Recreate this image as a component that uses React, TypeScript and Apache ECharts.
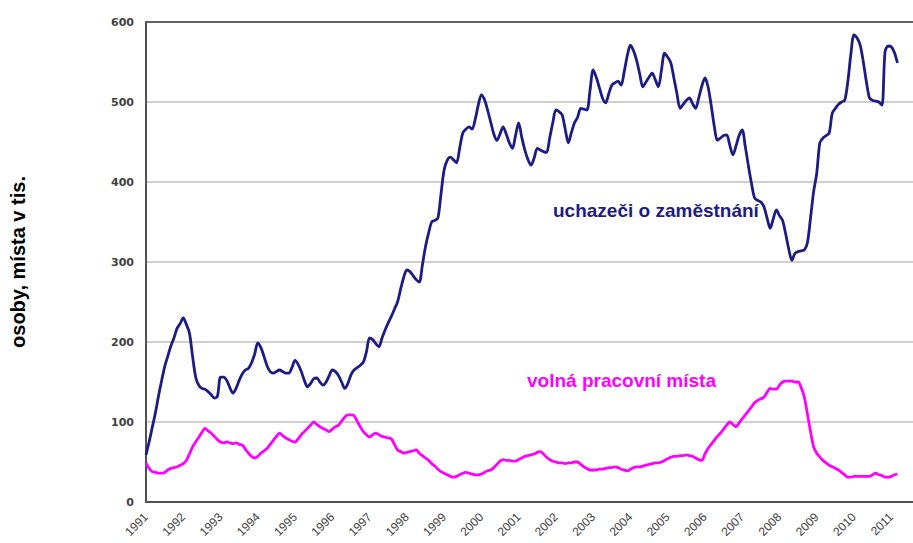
import React, { useEffect, useRef } from "react";
import * as echarts from "echarts";

const years = [1991, 1992, 1993, 1994, 1995, 1996, 1997, 1998, 1999, 2000, 2001, 2002, 2003, 2004, 2005, 2006, 2007, 2008, 2009, 2010, 2011];

// monthly values Jan 1991 .. Mar 2011 (thousands)
const uchazeci = [
  59, 75, 93, 111, 132, 151, 169, 182, 195, 205, 217, 223,
  230, 222, 211, 182, 156, 146, 142, 141, 138, 134, 130, 132,
  156, 156, 152, 143, 136, 142, 152, 160, 165, 167, 174, 185,
  199, 193, 182, 170, 163, 161, 163, 165, 163, 161, 161, 168,
  177, 172, 163, 152, 144, 148, 154, 155, 150, 146, 150, 158,
  165, 163, 158, 150, 142, 148, 159, 165, 168, 171, 175, 188,
  205, 203, 198, 194, 205, 215, 224, 232, 241, 250, 266, 281,
  290, 288, 283, 278, 275, 296, 319, 336, 350, 352, 355, 385,
  415, 427, 431, 428, 424, 442, 461, 466, 469, 466, 478, 496,
  509, 503, 490, 475, 460, 452, 460, 469, 460, 449, 442, 458,
  474, 456, 440, 428, 421, 430, 442, 440, 438, 437, 455, 474,
  490, 488, 484, 466, 449, 462, 474, 481, 492, 491, 490, 515,
  540, 531, 518, 505, 499, 510, 521, 524, 526, 521, 538, 558,
  571, 564, 552, 535, 519, 525, 531, 536, 528, 519, 540, 561,
  556, 549, 530, 510, 492, 497, 502, 505, 498, 492, 505, 520,
  530, 519, 496, 470, 452, 455, 458, 459, 446, 434, 445, 458,
  465, 444, 420, 398, 380, 377, 375, 369, 355, 342, 354, 365,
  358, 352, 335, 316, 302, 311, 313, 314, 315, 324, 355, 388,
  411, 449, 455, 458, 461, 486, 492, 497, 500, 502, 525, 560,
  584, 580, 571, 550, 525, 505, 502, 501, 500, 496, 563, 570,
  569, 562, 549,
];

const volnaMista = [
  49, 42, 38, 37, 36, 36, 37, 40, 42, 43, 44, 46,
  48, 52, 60, 69, 75, 81, 87, 92, 89, 86, 82, 78,
  75, 74, 75, 74, 73, 74, 72, 71, 66, 61, 57, 55,
  57, 61, 64, 67, 72, 77, 82, 86, 83, 80, 78, 76,
  75, 79, 84, 88, 92, 96, 100, 97, 94, 92, 90, 88,
  91, 94, 96, 101, 106, 109, 109, 108, 101, 94, 88, 84,
  81, 84, 86, 84, 82, 81, 80, 79, 72, 65, 63, 61,
  62, 63, 64, 65, 61, 58, 55, 52, 48, 45, 41, 38,
  36, 34, 32, 31, 32, 34, 36, 37, 36, 35, 34, 34,
  35, 37, 39, 40, 43, 47, 51, 53, 52, 52, 51, 51,
  53, 55, 57, 58, 59, 60, 62, 63, 60, 56, 53, 51,
  50, 49, 49, 48, 49, 49, 50, 50, 47, 44, 42, 40,
  40, 40, 41, 41, 42, 43, 43, 44, 43, 41, 40, 39,
  41, 43, 44, 44, 45, 46, 47, 48, 49, 49, 50, 52,
  54, 56, 57, 57, 58, 58, 59, 58, 57, 55, 53, 52,
  60, 67, 72, 77, 82, 86, 91, 96, 100, 97, 94, 99,
  104, 109, 114, 119, 124, 127, 129, 131, 137, 142, 141, 141,
  146, 150, 151, 151, 151, 150, 150, 143, 131, 110, 88, 69,
  61, 56, 52, 49, 46, 44, 42, 40, 37, 34, 31, 31,
  32, 32, 32, 32, 32, 32, 34, 36, 34, 33, 31, 31,
  32, 34, 35,
];

const yTicks = [0, 100, 200, 300, 400, 500, 600];
const extraMonths = 5; // empty months after last value, to the plot's right edge

const months: string[] = [];
for (let i = 0; i < uchazeci.length + extraMonths; i++) {
  const y = years[0] + Math.floor(i / 12);
  const m = (i % 12) + 1;
  months.push(`${y}-${m < 10 ? "0" + m : m}`);
}

export default function App() {
  const ref = useRef<HTMLDivElement>(null);
  useEffect(() => {
    if (!ref.current) return;
    const chart = echarts.init(ref.current, null, { renderer: "svg" });
    chart.setOption({
      animation: false,
      backgroundColor: "#ffffff",
      grid: { left: 145, right: 0, top: 22, bottom: 41, containLabel: false },
      xAxis: {
        type: "category",
        data: months,
        boundaryGap: false,
        axisLine: { show: true, lineStyle: { color: "#505050", width: 2 } },
        axisTick: { show: false },
        splitLine: { show: false },
        axisLabel: {
          interval: (idx: number) => idx % 12 === 0,
          formatter: (v: string) => v.slice(0, 4),
          rotate: 45,
          color: "#404040",
          fontFamily: "Liberation Sans, Arial, sans-serif",
          fontSize: 12,
          margin: 13,
        },
      },
      yAxis: {
        type: "value",
        min: yTicks[0],
        max: yTicks[yTicks.length - 1],
        interval: 100,
        name: "osoby, místa v tis.",
        nameLocation: "middle",
        nameRotate: 90,
        nameGap: 118,
        nameTextStyle: {
          color: "#000000",
          fontWeight: "bold",
          fontSize: 20,
          fontFamily: "Liberation Sans, Arial, sans-serif",
        },
        axisLine: { show: true, lineStyle: { color: "#505050", width: 2 } },
        axisTick: { show: false },
        axisLabel: {
          color: "#404040",
          fontWeight: "bold",
          fontSize: 11,
          fontFamily: "DejaVu Sans, sans-serif",
          margin: 12,
        },
        splitLine: {
          show: true,
          lineStyle: {
            color: ["#d0d0d0", "#d0d0d0", "#d0d0d0", "#d0d0d0", "#d0d0d0", "#d0d0d0", "#606060"],
            width: 2,
          },
        },
      },
      series: [
        {
          name: "uchazeči o zaměstnání",
          type: "line",
          data: uchazeci,
          showSymbol: false,
          smooth: 0.3,
          lineStyle: { color: "#1c1c84", width: 2.8 },
          z: 3,
        },
        {
          name: "volná pracovní místa",
          type: "line",
          data: volnaMista,
          showSymbol: false,
          smooth: 0.3,
          lineStyle: { color: "#ff00ff", width: 2.8 },
          z: 2,
        },
      ],
      graphic: [
        {
          type: "text",
          left: 553,
          top: 201,
          style: {
            text: "uchazeči o zaměstnání",
            fill: "#1c1c84",
            font: "bold 19px Liberation Sans, Arial, sans-serif",
          },
        },
        {
          type: "text",
          left: 527,
          top: 371,
          style: {
            text: "volná pracovní místa",
            fill: "#ff00ff",
            font: "bold 19px Liberation Sans, Arial, sans-serif",
          },
        },
      ],
    });
    return () => chart.dispose();
  }, []);
  return (
    <div
      ref={ref}
      style={{ position: "fixed", left: 0, top: 0, width: 913, height: 543, background: "#fff" }}
    />
  );
}
